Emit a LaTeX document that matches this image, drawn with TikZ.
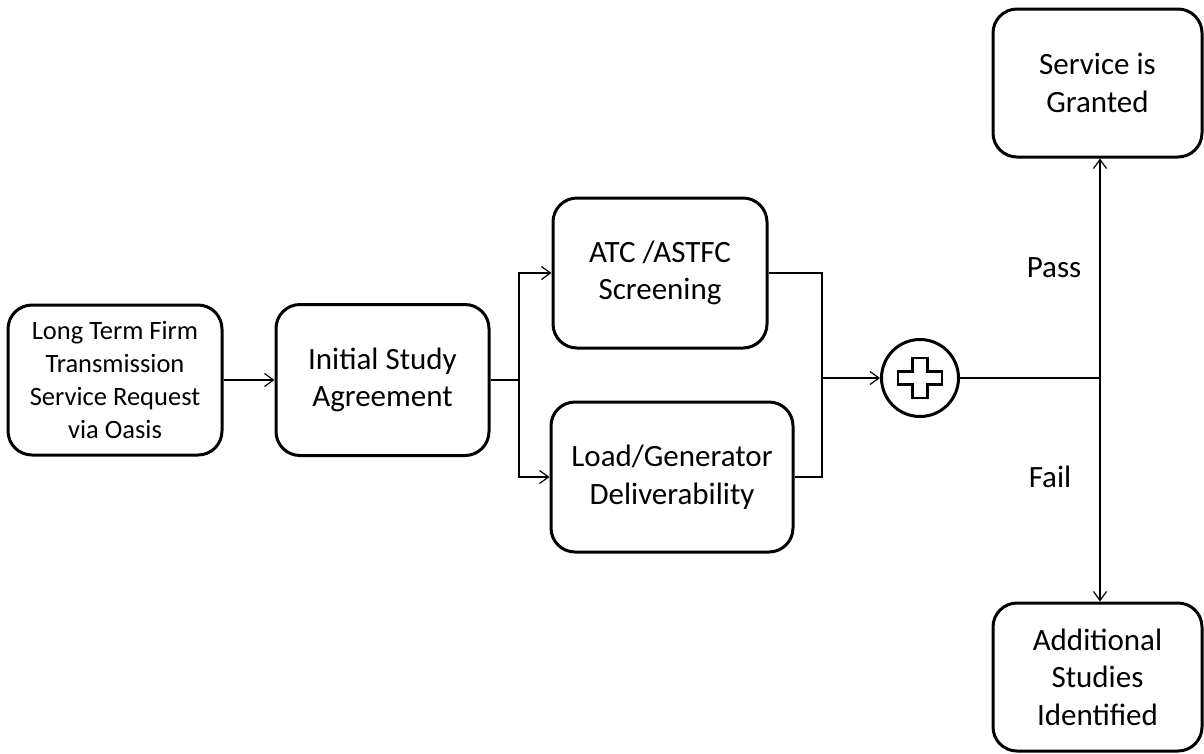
\documentclass[tikz,border=0pt]{standalone}
\usepackage{fontspec}
\setmainfont{Carlito}
\usepackage{tikz}
\usetikzlibrary{arrows.meta, positioning}
\tikzset{process/.style={draw, line width=3pt, rounded corners=24pt, align=center, font=\fontsize{31}{37.5}\selectfont}}

\begin{document}
\begin{tikzpicture}[x=1pt, y=-1pt, >={Straight Barb[length=9pt,width=13pt]}, line width=1.2pt, every node/.style={inner sep=0pt}]
\useasboundingbox (0,0) rectangle (1204,753);
\node[process, minimum width=214pt, minimum height=150pt, font=\fontsize{26.5}{33.3}\selectfont] (req) at (115,380) {Long Term Firm\\Transmission\\Service Request\\via Oasis};
\node[process, minimum width=213pt, minimum height=151pt, right=51pt of req] (isa) {Initial Study\\Agreement};
\node[process, minimum width=214pt, minimum height=150pt] (atc) at (660,273) {ATC /ASTFC\\Screening};
\node[process, minimum width=242pt, minimum height=150pt] (load) at (672,477) {Load/Generator\\Deliverability};
\node[draw, circle, line width=3pt, minimum size=77pt] (plus) at (920,378) {};
\node[process, minimum width=209pt, minimum height=148pt] (granted) at (1097.5,83) {Service is\\Granted};
\node[process, minimum width=209pt, minimum height=148pt] (extra) at (1097.5,677) {Additional\\Studies\\Identified};
\node[font=\fontsize{31}{35}\selectfont] (pass) at (1054,268) {Pass};
\node[font=\fontsize{31}{35}\selectfont] (fail) at (1050,477) {Fail};
% plus sign inside the gate
\draw[line width=2.6pt, shift={(plus.center)}] (-7.5,-20) -- (7.5,-20) -- (7.5,-6.5) -- (22,-6.5) -- (22,6.5) -- (7.5,6.5) -- (7.5,20) -- (-7.5,20) -- (-7.5,6.5) -- (-22,6.5) -- (-22,-6.5) -- (-7.5,-6.5) -- cycle;
\coordinate (fork) at (519,380);
\coordinate (merge) at (822,378);
\coordinate (split) at (1100,378);
\draw[->] (req) -- (isa);
\draw (isa) -- (fork);
\draw[->] (fork) |- (atc);
\draw[->] (fork) |- (load);
\draw (atc) -| (merge);
\draw (load) -| (merge);
\draw[->] (merge) -- (plus);
\draw (plus) -- (split);
\draw[->] (split) -- (split |- granted.south);
\draw[->] (split) -- (split |- extra.north);
\end{tikzpicture}
\end{document}
